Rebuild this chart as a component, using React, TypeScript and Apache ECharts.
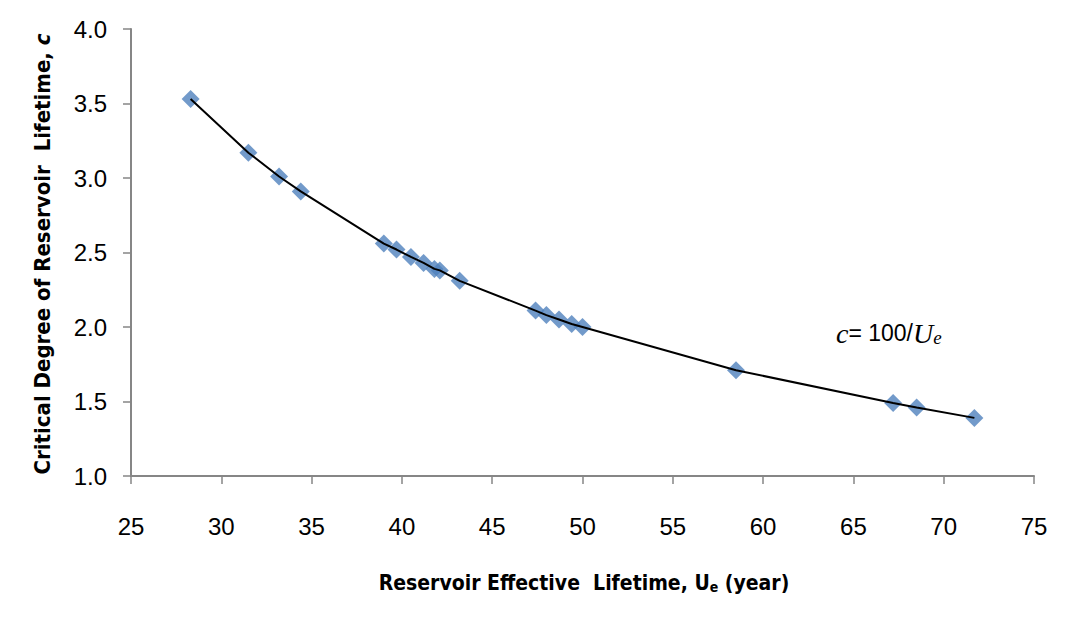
import { useEffect, useRef } from "react";
import * as echarts from "echarts";

// Reservoir effective lifetime U_e (years) and critical degree c for each reservoir
const lifetimes = [
  28.3, 31.5, 33.2, 34.4, 39.0, 39.7, 40.5, 41.2, 41.8, 42.1, 43.2, 47.4, 48.0,
  48.7, 49.4, 50.0, 58.5, 67.2, 68.5, 71.7,
];
const criticalDegrees = [
  3.53, 3.17, 3.01, 2.91, 2.56, 2.52, 2.47, 2.43, 2.39, 2.38, 2.31, 2.11, 2.08,
  2.05, 2.02, 2.0, 1.71, 1.49, 1.46, 1.39,
];

const xRange = { min: 25, max: 75, step: 5 };
const yRange = { min: 1.0, max: 4.0, step: 0.5 };

const SANS = '"Liberation Sans", Arial, sans-serif';
const TITLE = '"Liberation Sans Narrow", "DejaVu Sans Condensed", "Liberation Sans", sans-serif';
const SERIF = '"Liberation Serif", "DejaVu Serif", serif';

export default function App() {
  const ref = useRef<HTMLDivElement>(null);

  useEffect(() => {
    if (!ref.current) return;
    const chart = echarts.init(ref.current, undefined, { renderer: "svg" });
    const points = lifetimes.map((u, i) => [u, criticalDegrees[i]]);

    chart.setOption({
      animation: false,
      backgroundColor: "#ffffff",
      grid: { left: 131, right: 41, top: 29, bottom: 151, containLabel: false },
      xAxis: {
        type: "value",
        min: xRange.min,
        max: xRange.max,
        interval: xRange.step,
        axisLine: { lineStyle: { color: "#868686", width: 2 } },
        axisTick: { length: 8, lineStyle: { color: "#868686", width: 1.5 } },
        splitLine: { show: false },
        axisLabel: {
          margin: 38,
          fontSize: 24,
          fontFamily: SANS,
          color: "#000000",
        },
      },
      yAxis: {
        type: "value",
        min: yRange.min,
        max: yRange.max,
        interval: yRange.step,
        axisLine: { show: true, lineStyle: { color: "#868686", width: 2 } },
        axisTick: { show: true, length: 8, lineStyle: { color: "#868686", width: 1.5 } },
        splitLine: { show: false },
        axisLabel: {
          margin: 24,
          fontSize: 24,
          fontFamily: SANS,
          color: "#000000",
          padding: [5, 0, 0, 0],
          formatter: (v: number) => v.toFixed(1),
        },
      },
      series: [
        {
          type: "scatter",
          data: points,
          symbol: "diamond",
          symbolSize: 18,
          itemStyle: { color: "#4F81BD" },
          z: 2,
        },
        {
          type: "line",
          data: points,
          smooth: false,
          showSymbol: false,
          lineStyle: { color: "#000000", width: 2 },
          z: 3,
        },
      ],
      graphic: [
        {
          type: "text",
          x: 584,
          y: 583,
          style: {
            text: "{b|Reservoir Effective  Lifetime, U}{s|e}{b| (year)}",
            align: "center",
            verticalAlign: "middle",
            fill: "#000",
            rich: {
              b: { fontFamily: TITLE, fontWeight: "bold", fontSize: 21, lineHeight: 22, fill: "#000" },
              s: {
                fontFamily: TITLE,
                fontWeight: "bold",
                fontSize: 14,
                lineHeight: 14,
                verticalAlign: "bottom",
                fill: "#000",
              },
            },
          },
        },
        {
          type: "text",
          x: 42,
          y: 254,
          rotation: Math.PI / 2,
          style: {
            text: "{b|Critical Degree of Reservoir  Lifetime, }{i|c}",
            align: "center",
            verticalAlign: "middle",
            fill: "#000",
            rich: {
              b: { fontFamily: TITLE, fontWeight: "bold", fontSize: 22, fill: "#000" },
              i: { fontFamily: TITLE, fontWeight: "bold", fontStyle: "italic", fontSize: 22, fill: "#000" },
            },
          },
        },
        {
          type: "text",
          x: 836,
          y: 333,
          style: {
            text: "{i|c}{n|= 100/}{i|U}{s|e}",
            align: "left",
            verticalAlign: "middle",
            fill: "#000",
            rich: {
              i: { fontFamily: SERIF, fontStyle: "italic", fontSize: 28, lineHeight: 28, fill: "#000" },
              n: { fontFamily: SANS, fontSize: 23, lineHeight: 28, fill: "#000" },
              s: {
                fontFamily: SERIF,
                fontStyle: "italic",
                fontSize: 19,
                lineHeight: 19,
                verticalAlign: "bottom",
                fill: "#000",
              },
            },
          },
        },
      ],
    });

    return () => chart.dispose();
  }, []);

  return (
    <div
      ref={ref}
      style={{ position: "fixed", left: 0, top: 0, width: 1075, height: 627, background: "#fff" }}
    />
  );
}
